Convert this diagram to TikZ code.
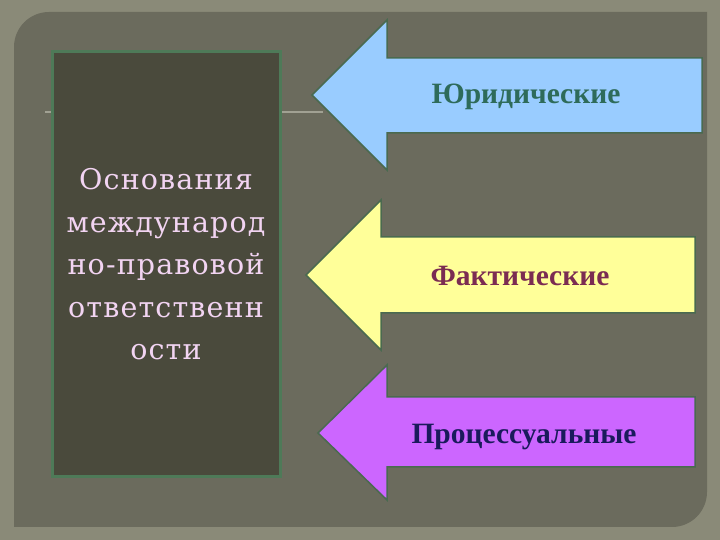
\documentclass[tikz,border=0pt]{standalone}
\usepackage{fontspec}
\setmainfont{Liberation Serif}
\newfontfamily\basisfont[LetterSpace=4]{DejaVu Serif}

\definecolor{outerbg}{HTML}{8A8A78}
\definecolor{panelbg}{HTML}{6B6B5D}
\definecolor{boxbg}{HTML}{4A4A3C}
\definecolor{boxedge}{HTML}{4E7A58}
\definecolor{arrowedge}{HTML}{4A6A50}
\definecolor{blueArrow}{HTML}{99CCFF}
\definecolor{yellowArrow}{HTML}{FFFF99}
\definecolor{purpleArrow}{HTML}{CC66FF}
\definecolor{juridText}{HTML}{2E6B5A}
\definecolor{factText}{HTML}{7B2C52}
\definecolor{procText}{HTML}{1A1A5C}
\definecolor{basisText}{HTML}{F2D4F2}

\tikzset{
  arrowshape/.style={draw=arrowedge, line width=1.5pt, line join=miter},
  label/.style={font=\fontsize{29.5}{32}\selectfont\bfseries, inner sep=0pt}
}

\begin{document}
\begin{tikzpicture}[x=1pt,y=1pt]
    \useasboundingbox (0,0) rectangle (720,540);
    % background and panel
    \fill[outerbg] (0,0) rectangle (720,540);
    \fill[panelbg] (14,13) -- (14,493)
        arc[start angle=180, end angle=90, radius=35]
        -- (707,528) -- (707,48)
        arc[start angle=0, end angle=-90, radius=35]
        -- cycle;
    \draw[color=outerbg!80!white, line width=1.2pt] (45,428) -- (323,428);
    % left box
    \node[draw=boxedge, fill=boxbg, line width=3pt,
          minimum width=228pt, minimum height=425pt,
          align=center, text=basisText,
          font=\basisfont\fontsize{28.5}{42.5}\selectfont] (basis) at (166,275.5)
        {Основания\\международ\\но-правовой\\ответственн\\ости};
    % arrows
    \draw[arrowshape, fill=blueArrow] (312,445) -- (387,520) -- (387,482)
        -- (702,482) -- (702,407) -- (387,407) -- (387,370) -- cycle;
    \draw[arrowshape, fill=yellowArrow] (306,265) -- (381,340) -- (381,303)
        -- (695,303) -- (695,227) -- (381,227) -- (381,190) -- cycle;
    \draw[arrowshape, fill=purpleArrow] (318,107) -- (387,175) -- (387,143)
        -- (695,143) -- (695,73) -- (387,73) -- (387,40) -- cycle;
    % labels
    \node[label, text=juridText] (jurid) at (526,443) {Юридические};
    \node[label, text=factText] (fact) at (520,264) {Фактические};
    \node[label, text=procText] (proc) at (524,103) {Процессуальные};
\end{tikzpicture}
\end{document}
